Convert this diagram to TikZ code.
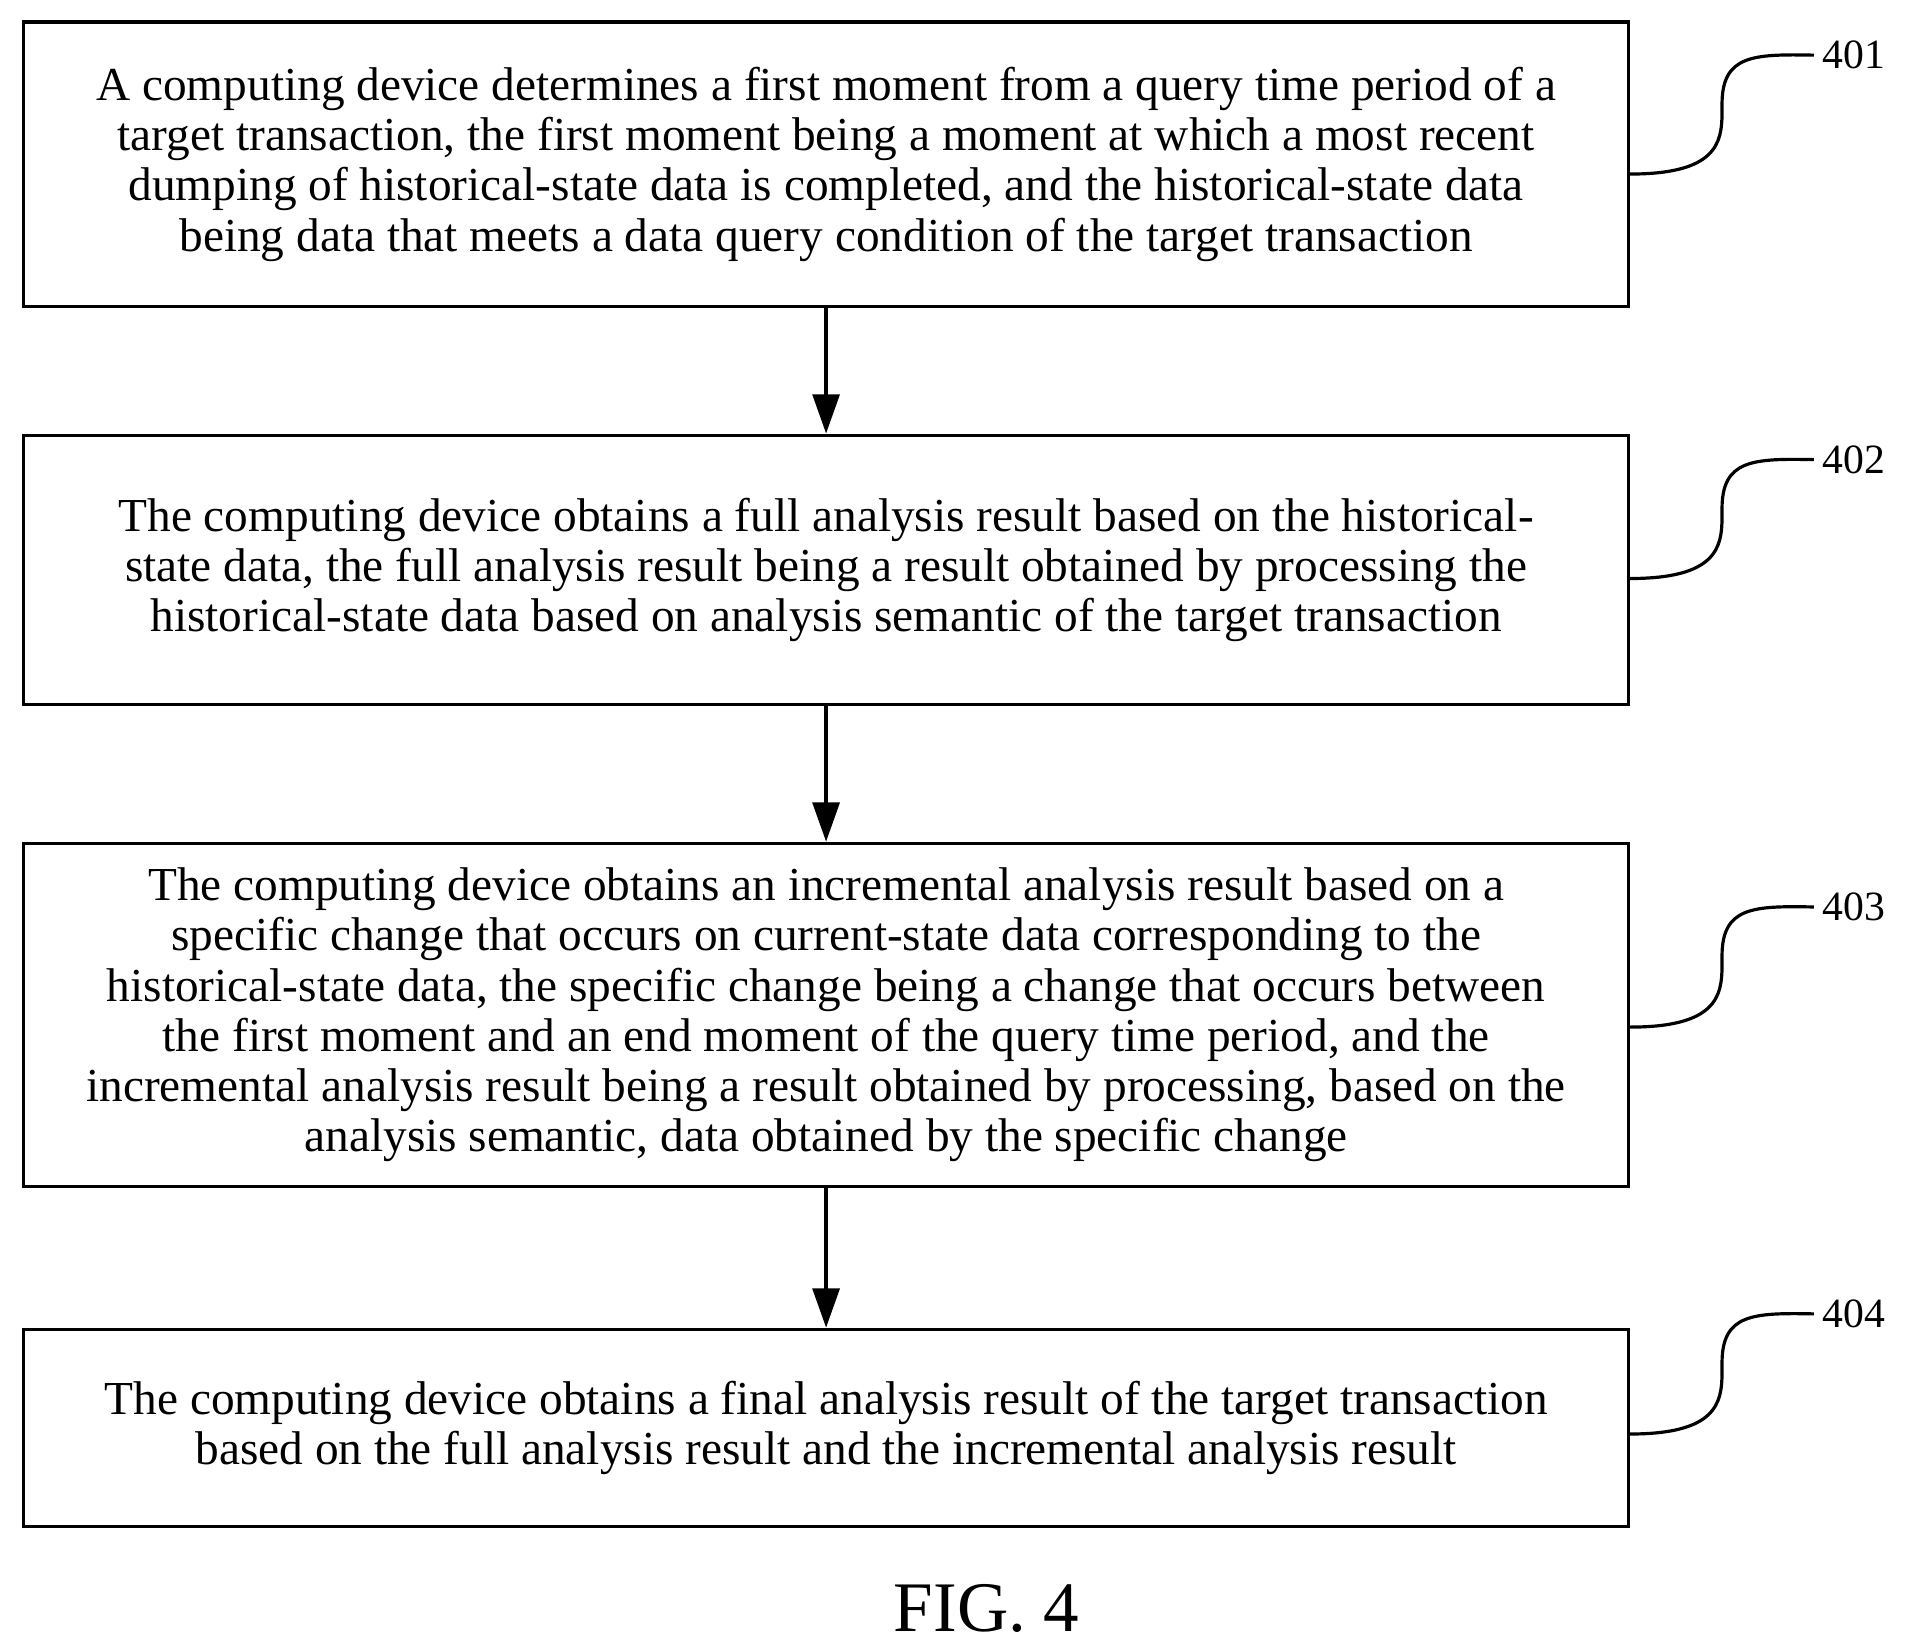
\documentclass[tikz,border=0pt]{standalone}
\usepackage{fontspec}
\setmainfont{Liberation Serif}
\usetikzlibrary{arrows.meta}
\begin{document}
\begin{tikzpicture}[x=0.5pt,y=-0.5pt,
  box/.style={draw,line width=1.3pt,minimum width=655pt,align=center,inner sep=0pt,
    font=\fontsize{19.3}{20.5}\selectfont},
  arr/.style={line width=1.3pt,-{Triangle[length=16pt,width=11pt]}},
  lab/.style={font=\fontsize{17}{20}\selectfont},
  cur/.style={line width=1.3pt}]
\useasboundingbox (0,0) rectangle (1560,1344);
\node[box,minimum height=116pt] (b1) at (674,134) {A computing device determines a first moment from a query time period of a\\ target transaction, the first moment being a moment at which a most recent\\ dumping of historical-state data is completed, and the historical-state data\\ being data that meets a data query condition of the target transaction};
\node[box,minimum height=110pt] (b2) at (674,465) {The computing device obtains a full analysis result based on the historical-\\state data, the full analysis result being a result obtained by processing the\\ historical-state data based on analysis semantic of the target transaction};
\node[box,minimum height=140pt] (b3) at (674,828) {The computing device obtains an incremental analysis result based on a\\ specific change that occurs on current-state data corresponding to the\\ historical-state data, the specific change being a change that occurs between\\ the first moment and an end moment of the query time period, and the\\ incremental analysis result being a result obtained by processing, based on the\\ analysis semantic, data obtained by the specific change};
\node[box,minimum height=80.5pt] (b4) at (674,1165) {The computing device obtains a final analysis result of the target transaction\\ based on the full analysis result and the incremental analysis result};
\draw[arr] (b1.south) -- (b2.north);
\draw[arr] (b2.south) -- (b3.north);
\draw[arr] (b3.south) -- (b4.north);
\foreach \n/\y/\ly in {401/142/45, 402/472/375, 403/838/740, 404/1170/1072}{
  \node[lab,anchor=west] (l\n) at (1480,\ly) {\n};
  \coordinate (s\n) at (1330,\y);
  \draw[cur] (s\n) .. controls (1400,\y) and (1405,\y-25) .. (1405,\y-50)
     -- (1405,\ly+40) .. controls (1405,\ly) and (1430,\ly-1) .. (l\n.west);
}
\node[font=\fontsize{29}{32}\selectfont] (fig) at (805,1312) {FIG. 4};
\end{tikzpicture}
\end{document}
